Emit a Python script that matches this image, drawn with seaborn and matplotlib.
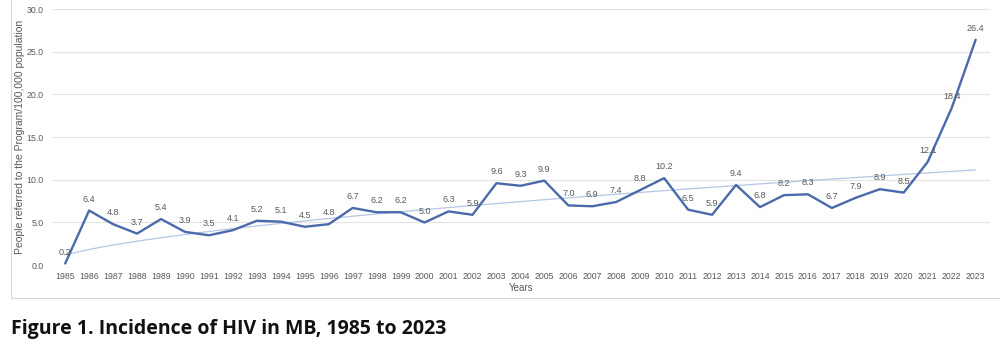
import numpy as np
import pandas as pd
import matplotlib
matplotlib.use("Agg")
import matplotlib.pyplot as plt
import seaborn as sns
from matplotlib.patches import Rectangle

years = list(range(1985, 2024))
rates = [0.2, 6.4, 4.8, 3.7, 5.4, 3.9, 3.5, 4.1, 5.2, 5.1, 4.5, 4.8, 6.7, 6.2, 6.2,
         5.0, 6.3, 5.9, 9.6, 9.3, 9.9, 7.0, 6.9, 7.4, 8.8, 10.2, 6.5, 5.9, 9.4, 6.8,
         8.2, 8.3, 6.7, 7.9, 8.9, 8.5, 12.1, 18.4, 26.4]
y_ticks = [0, 5, 10, 15, 20, 25, 30]
title = "Figure 1. Incidence of HIV in MB, 1985 to 2023"
y_label = "People referred to the Program/100,000 population"
x_label = "Years"

sns.set_theme(style="white")
plt.rcParams['font.family'] = ['Liberation Sans', 'DejaVu Sans']

df = pd.DataFrame({"idx": np.arange(len(years)), "year": years, "rate": rates})
# power trendline (Excel-style, x = 1..n): ln y = ln a + b ln x
xs = df["idx"].values + 1
b, ln_a = np.polyfit(np.log(xs), np.log(df["rate"].values), 1)
df["trend"] = np.exp(ln_a) * xs ** b

fig = plt.figure(figsize=(10, 3.48), dpi=100)
ax = fig.add_axes([0.052, 0.238, 0.938, 0.736])

# outer chart border
fig.patches.append(Rectangle((0.011, 0.143), 0.995, 0.86, transform=fig.transFigure,
                             fill=False, edgecolor="#d9d9d9", linewidth=0.8))

sns.lineplot(data=df, x="idx", y="trend", ax=ax, color="#b4c6e7", linewidth=0.9)
sns.lineplot(data=df, x="idx", y="rate", ax=ax, color="#4a6aab", linewidth=1.7)

for i, v in enumerate(rates):
    ax.annotate(f"{v:.1f}", (i, v), xytext=(0, 5), textcoords="offset points",
                ha="center", va="bottom", fontsize=6.5, color="#595959")

ax.set_xlim(-0.55, 38.6)
ax.set_ylim(0, 30)
ax.set_yticks(y_ticks)
ax.set_yticklabels([f"{t:.1f}" for t in y_ticks], fontsize=6.3, color="#595959")
ax.set_xticks(df["idx"])
ax.set_xticklabels([str(y) for y in years], fontsize=6.3, color="#595959")
ax.tick_params(axis="x", length=0, pad=5)
ax.tick_params(axis="y", length=0, pad=6)
ax.yaxis.grid(True, color="#e3e3e3", linewidth=0.8)
ax.xaxis.grid(False)
for s in ax.spines.values():
    s.set_visible(False)
ax.set_xlabel(x_label, fontsize=7, color="#595959", labelpad=1)
ax.set_ylabel(y_label, fontsize=7.5, color="#595959", labelpad=1)

fig.text(0.011, 0.04, title, fontsize=14, fontweight="bold", color="#111111",
         family=['Open Sans', 'DejaVu Sans'])

fig.savefig("out.png", dpi=100)
